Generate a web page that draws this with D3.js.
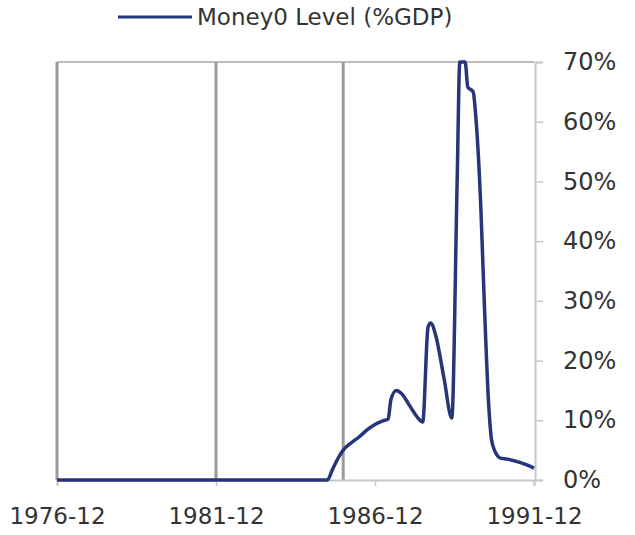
<!DOCTYPE html>
<html><head><meta charset="utf-8">
<script src="https://cdn.jsdelivr.net/npm/d3@7"></script>
<style>body{margin:0;background:#fff}svg{display:block}</style>
</head><body>
<svg id="c" width="635" height="535"></svg>
<script>
const dates = ["1976-12","1985-06","1985-08","1985-10","1985-12","1986-03","1986-06","1986-09","1986-12","1987-03","1987-05","1987-06","1987-08","1987-10","1988-01","1988-04","1988-06","1988-08","1988-09","1988-11","1989-02","1989-05","1989-07","1989-08","1989-10","1989-11","1990-01","1990-02","1990-04","1990-05","1990-07","1990-08","1990-10","1990-11","1991-02","1991-07","1991-12"];
const values = [0,0,1.8,3.6,5.0,6.2,7.2,8.4,9.3,9.9,10.2,13.4,15.0,14.5,12.5,10.5,9.7,25.6,26.3,24.0,17.0,10.4,49.7,70,70,65.8,65.0,60.8,45,33,12,6.7,4.2,3.7,3.5,2.9,2.0];
const vLines = ["1976-12","1981-12","1985-12"];
const xTicks = ["1976-12","1981-12","1986-12","1991-12"];
const yTicks = [0,10,20,30,40,50,60,70];
const seriesName = "Money0 Level (%GDP)";

const parse = d3.timeParse("%Y-%m");
const fmt = d3.timeFormat("%Y-%m");
const svg = d3.select("#c");
const L=57,R=534,T=62,B=480;
const x = d3.scaleTime().domain([parse("1976-12"),parse("1991-12")]).range([L,R]);
const y = d3.scaleLinear().domain([0,70]).range([B,T]);
const font = "'DejaVu Sans', sans-serif";

svg.append("line").attr("x1",L).attr("x2",R).attr("y1",T).attr("y2",T).attr("stroke","#bdbdbd").attr("stroke-width",2);
svg.selectAll(".vl").data(vLines).join("line")
  .attr("x1",d=>x(parse(d))).attr("x2",d=>x(parse(d))).attr("y1",T).attr("y2",B)
  .attr("stroke","#9a9a9a").attr("stroke-width",3);

const xa = svg.append("g").attr("transform",`translate(0,${B})`)
  .call(d3.axisBottom(x).tickValues(xTicks.map(parse)).tickFormat(fmt).tickSize(6).tickPadding(22));
xa.select(".domain").attr("stroke","#c8c8c8").attr("stroke-width",2);
xa.selectAll(".tick line").attr("stroke","#c8c8c8").attr("stroke-width",1.5);
xa.selectAll("text").attr("font-family",font).attr("font-size",23).attr("fill","#333");

const ya = svg.append("g").attr("transform",`translate(${R+1},0)`)
  .call(d3.axisRight(y).tickValues(yTicks).tickFormat(d=>d+"%").tickSize(8).tickPadding(20));
ya.select(".domain").attr("stroke","#c8c8c8").attr("stroke-width",2);
ya.selectAll(".tick line").attr("stroke","#c8c8c8").attr("stroke-width",1.5);
ya.selectAll("text").attr("font-family",font).attr("font-size",24).attr("fill","#333");

const data = dates.map((d,i)=>({d:parse(d),v:values[i]}));
svg.append("path").datum(data)
  .attr("d",d3.line().x(d=>x(d.d)).y(d=>y(d.v)).curve(d3.curveMonotoneX))
  .attr("fill","none").attr("stroke","#27357a").attr("stroke-width",3.5).attr("stroke-linejoin","round");

svg.append("line").attr("x1",118).attr("x2",192).attr("y1",17).attr("y2",17).attr("stroke","#27357a").attr("stroke-width",3);
svg.append("text").attr("x",197).attr("y",25).text(seriesName)
  .attr("font-family",font).attr("font-size",23).attr("fill","#333");
</script>
</body></html>
